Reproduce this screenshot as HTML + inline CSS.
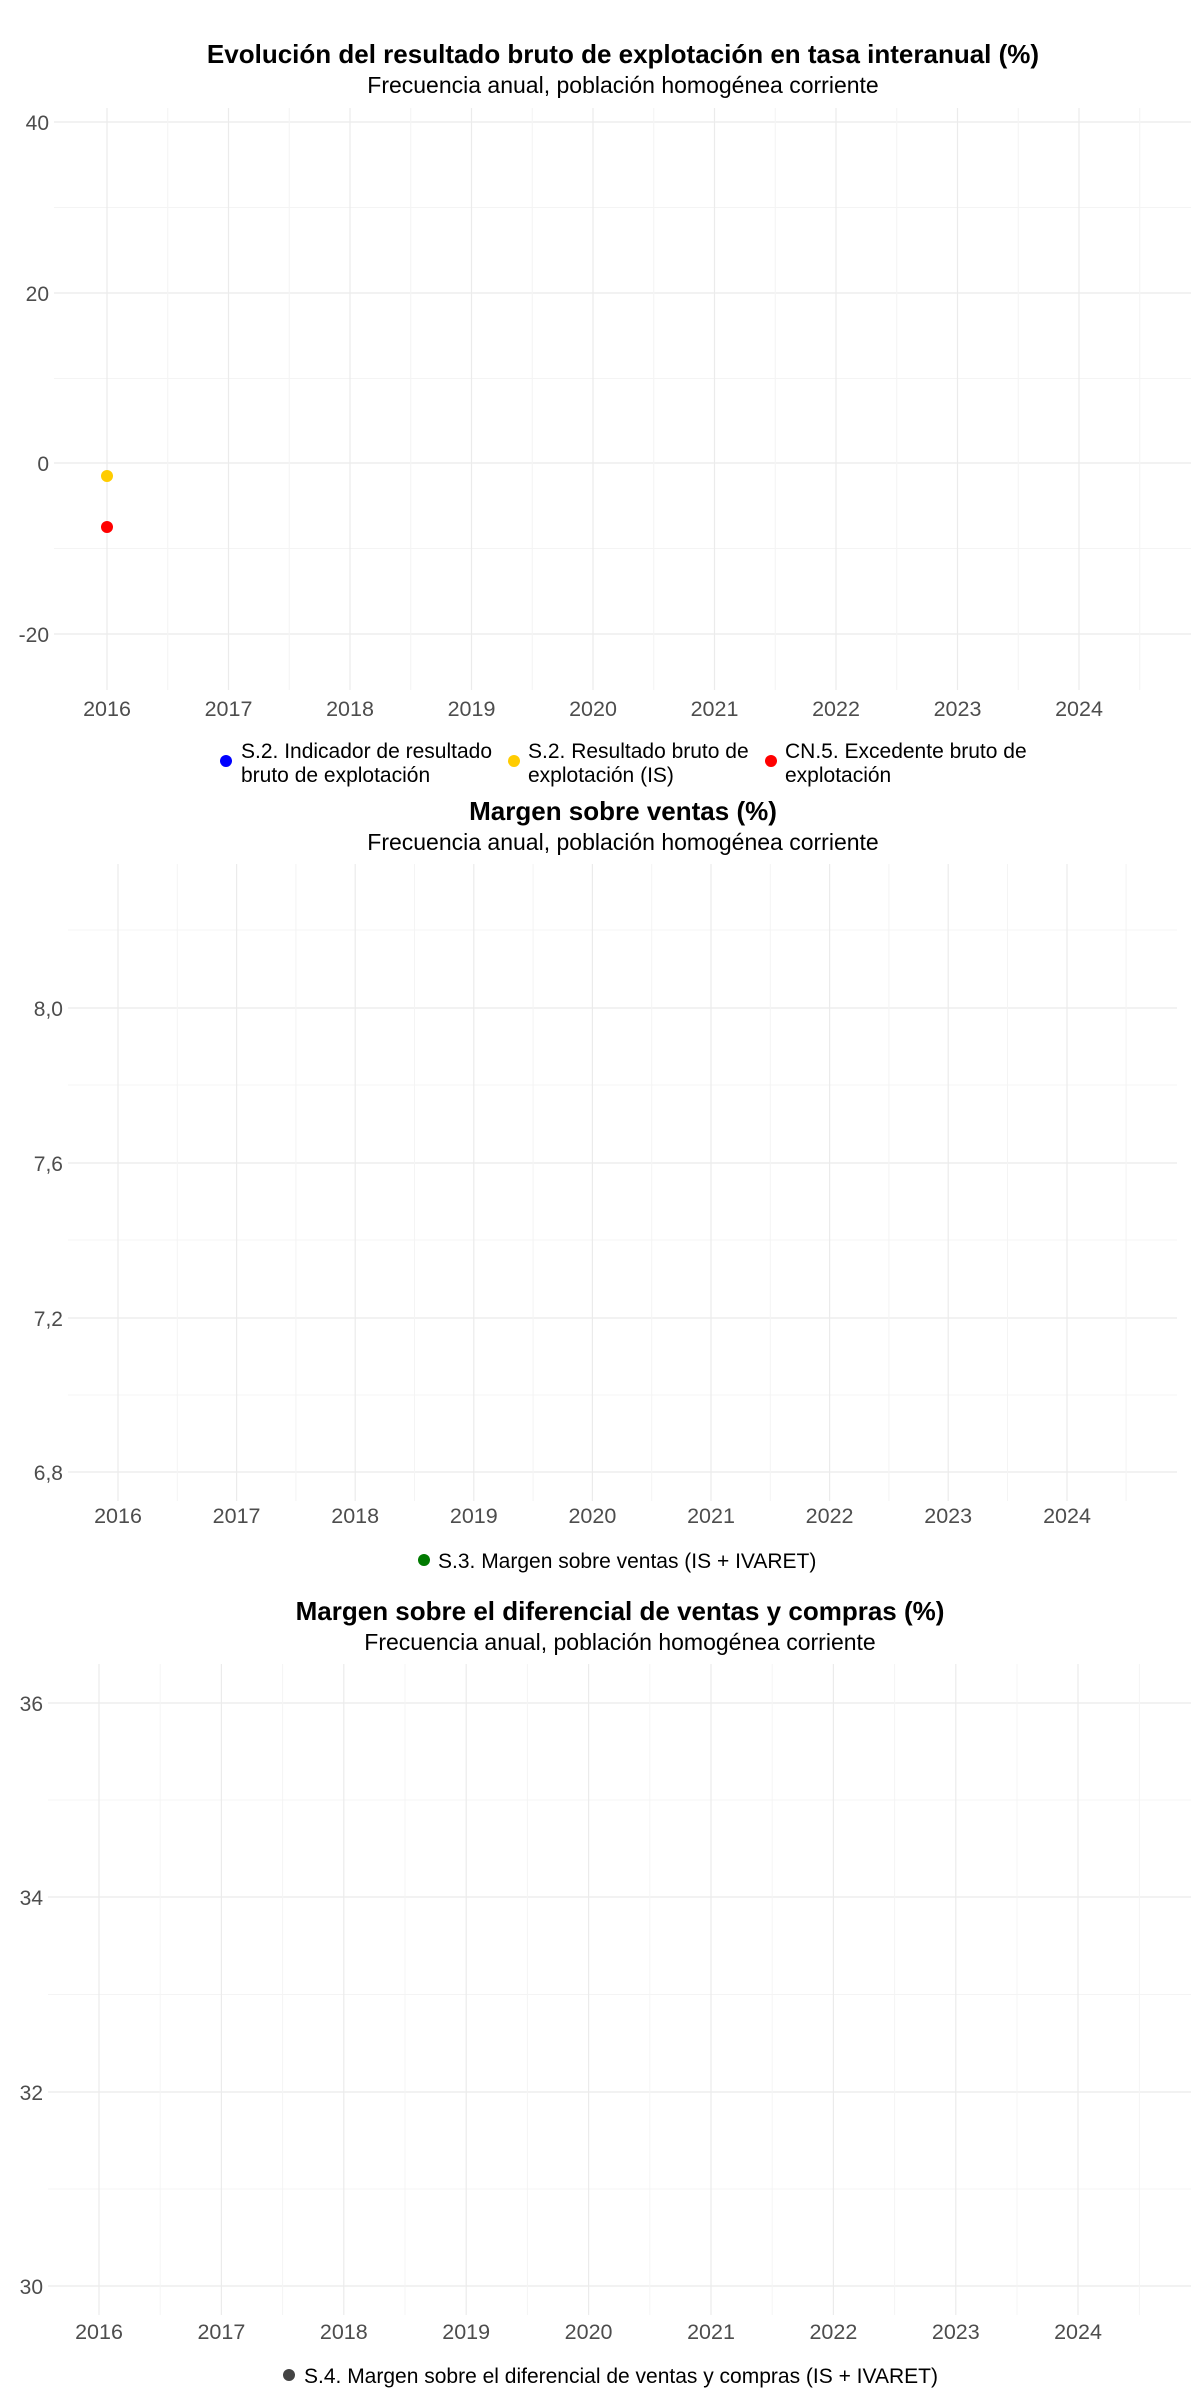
<!DOCTYPE html>
<html><head><meta charset="utf-8"><style>
html,body{margin:0;padding:0;background:#fff;}
svg{display:block;font-family:"Liberation Sans",Arial,sans-serif;}
.t{font-weight:bold;font-size:26px;fill:#000;text-anchor:middle}
.s{font-size:23px;fill:#000;text-anchor:middle}
.yt{font-size:21px;fill:#4d4d4d;text-anchor:end}
.xt{font-size:21.5px;fill:#4d4d4d;text-anchor:middle}
.lg{font-size:21px;fill:#000}
.M{stroke:#ebebeb;stroke-width:1.2}
.m{stroke:#f4f4f4;stroke-width:1}
</style></head><body>
<svg width="1200" height="2400" viewBox="0 0 1200 2400" xmlns="http://www.w3.org/2000/svg">
<!-- Chart 1 -->
<text class="t" x="623" y="63">Evolución del resultado bruto de explotación en tasa interanual (%)</text>
<text class="s" x="623" y="93">Frecuencia anual, población homogénea corriente</text>
<g>
<line class="m" x1="54" x2="1191" y1="207.5" y2="207.5"/><line class="m" x1="54" x2="1191" y1="378.5" y2="378.5"/><line class="m" x1="54" x2="1191" y1="548.5" y2="548.5"/>
<line class="M" x1="54" x2="1191" y1="122" y2="122"/><line class="M" x1="54" x2="1191" y1="293" y2="293"/><line class="M" x1="54" x2="1191" y1="463" y2="463"/><line class="M" x1="54" x2="1191" y1="634" y2="634"/>
<line class="m" x1="167.75" x2="167.75" y1="108" y2="690"/><line class="m" x1="289.25" x2="289.25" y1="108" y2="690"/><line class="m" x1="410.75" x2="410.75" y1="108" y2="690"/><line class="m" x1="532.25" x2="532.25" y1="108" y2="690"/><line class="m" x1="653.75" x2="653.75" y1="108" y2="690"/><line class="m" x1="775.25" x2="775.25" y1="108" y2="690"/><line class="m" x1="896.75" x2="896.75" y1="108" y2="690"/><line class="m" x1="1018.25" x2="1018.25" y1="108" y2="690"/><line class="m" x1="1139.75" x2="1139.75" y1="108" y2="690"/>
<line class="M" x1="107" x2="107" y1="108" y2="690"/><line class="M" x1="228.5" x2="228.5" y1="108" y2="690"/><line class="M" x1="350" x2="350" y1="108" y2="690"/><line class="M" x1="471.5" x2="471.5" y1="108" y2="690"/><line class="M" x1="593" x2="593" y1="108" y2="690"/><line class="M" x1="714.5" x2="714.5" y1="108" y2="690"/><line class="M" x1="836" x2="836" y1="108" y2="690"/><line class="M" x1="957.5" x2="957.5" y1="108" y2="690"/><line class="M" x1="1079" x2="1079" y1="108" y2="690"/>
</g>
<text class="yt" x="49" y="130">40</text><text class="yt" x="49" y="301">20</text><text class="yt" x="49" y="471">0</text><text class="yt" x="49" y="642">-20</text>
<text class="xt" x="107" y="716">2016</text><text class="xt" x="228.5" y="716">2017</text><text class="xt" x="350" y="716">2018</text><text class="xt" x="471.5" y="716">2019</text><text class="xt" x="593" y="716">2020</text><text class="xt" x="714.5" y="716">2021</text><text class="xt" x="836" y="716">2022</text><text class="xt" x="957.5" y="716">2023</text><text class="xt" x="1079" y="716">2024</text>
<circle cx="107" cy="476" r="6" fill="#ffcc00"/><circle cx="107" cy="527" r="6" fill="#ff0000"/>
<circle cx="226" cy="761" r="6" fill="#0000ff"/><text class="lg" x="241" y="758">S.2. Indicador de resultado</text><text class="lg" x="241" y="782">bruto de explotación</text>
<circle cx="514" cy="761" r="6" fill="#ffcc00"/><text class="lg" x="528" y="758">S.2. Resultado bruto de</text><text class="lg" x="528" y="782">explotación (IS)</text>
<circle cx="771" cy="761" r="6" fill="#ff0000"/><text class="lg" x="785" y="758">CN.5. Excedente bruto de</text><text class="lg" x="785" y="782">explotación</text>

<!-- Chart 2 -->
<text class="t" x="623" y="820">Margen sobre ventas (%)</text>
<text class="s" x="623" y="850">Frecuencia anual, población homogénea corriente</text>
<g>
<line class="m" x1="68" x2="1177" y1="930" y2="930"/><line class="m" x1="68" x2="1177" y1="1085" y2="1085"/><line class="m" x1="68" x2="1177" y1="1240" y2="1240"/><line class="m" x1="68" x2="1177" y1="1395" y2="1395"/>
<line class="M" x1="68" x2="1177" y1="1008" y2="1008"/><line class="M" x1="68" x2="1177" y1="1163" y2="1163"/><line class="M" x1="68" x2="1177" y1="1318" y2="1318"/><line class="M" x1="68" x2="1177" y1="1472" y2="1472"/>
<line class="m" x1="177.3" x2="177.3" y1="864" y2="1501"/><line class="m" x1="295.9" x2="295.9" y1="864" y2="1501"/><line class="m" x1="414.5" x2="414.5" y1="864" y2="1501"/><line class="m" x1="533.1" x2="533.1" y1="864" y2="1501"/><line class="m" x1="651.7" x2="651.7" y1="864" y2="1501"/><line class="m" x1="770.3" x2="770.3" y1="864" y2="1501"/><line class="m" x1="888.9" x2="888.9" y1="864" y2="1501"/><line class="m" x1="1007.5" x2="1007.5" y1="864" y2="1501"/><line class="m" x1="1126.1" x2="1126.1" y1="864" y2="1501"/>
<line class="M" x1="118" x2="118" y1="864" y2="1501"/><line class="M" x1="236.6" x2="236.6" y1="864" y2="1501"/><line class="M" x1="355.2" x2="355.2" y1="864" y2="1501"/><line class="M" x1="473.8" x2="473.8" y1="864" y2="1501"/><line class="M" x1="592.4" x2="592.4" y1="864" y2="1501"/><line class="M" x1="711" x2="711" y1="864" y2="1501"/><line class="M" x1="829.6" x2="829.6" y1="864" y2="1501"/><line class="M" x1="948.2" x2="948.2" y1="864" y2="1501"/><line class="M" x1="1067" x2="1067" y1="864" y2="1501"/>
</g>
<text class="yt" x="63" y="1016">8,0</text><text class="yt" x="63" y="1171">7,6</text><text class="yt" x="63" y="1326">7,2</text><text class="yt" x="63" y="1480">6,8</text>
<text class="xt" x="118" y="1523">2016</text><text class="xt" x="236.6" y="1523">2017</text><text class="xt" x="355.2" y="1523">2018</text><text class="xt" x="473.8" y="1523">2019</text><text class="xt" x="592.4" y="1523">2020</text><text class="xt" x="711" y="1523">2021</text><text class="xt" x="829.6" y="1523">2022</text><text class="xt" x="948.2" y="1523">2023</text><text class="xt" x="1067" y="1523">2024</text>
<circle cx="424" cy="1560" r="6" fill="#007a00"/><text class="lg" x="438" y="1568">S.3. Margen sobre ventas (IS + IVARET)</text>

<!-- Chart 3 -->
<text class="t" x="620" y="1620">Margen sobre el diferencial de ventas y compras (%)</text>
<text class="s" x="620" y="1650">Frecuencia anual, población homogénea corriente</text>
<g>
<line class="m" x1="48" x2="1191" y1="1800" y2="1800"/><line class="m" x1="48" x2="1191" y1="1994.5" y2="1994.5"/><line class="m" x1="48" x2="1191" y1="2189" y2="2189"/>
<line class="M" x1="48" x2="1191" y1="1703" y2="1703"/><line class="M" x1="48" x2="1191" y1="1897" y2="1897"/><line class="M" x1="48" x2="1191" y1="2092" y2="2092"/><line class="M" x1="48" x2="1191" y1="2286" y2="2286"/>
<line class="m" x1="160.2" x2="160.2" y1="1664" y2="2315"/><line class="m" x1="282.6" x2="282.6" y1="1664" y2="2315"/><line class="m" x1="405" x2="405" y1="1664" y2="2315"/><line class="m" x1="527.4" x2="527.4" y1="1664" y2="2315"/><line class="m" x1="649.8" x2="649.8" y1="1664" y2="2315"/><line class="m" x1="772.2" x2="772.2" y1="1664" y2="2315"/><line class="m" x1="894.6" x2="894.6" y1="1664" y2="2315"/><line class="m" x1="1017" x2="1017" y1="1664" y2="2315"/><line class="m" x1="1139.4" x2="1139.4" y1="1664" y2="2315"/>
<line class="M" x1="99" x2="99" y1="1664" y2="2315"/><line class="M" x1="221.4" x2="221.4" y1="1664" y2="2315"/><line class="M" x1="343.8" x2="343.8" y1="1664" y2="2315"/><line class="M" x1="466.2" x2="466.2" y1="1664" y2="2315"/><line class="M" x1="588.6" x2="588.6" y1="1664" y2="2315"/><line class="M" x1="711" x2="711" y1="1664" y2="2315"/><line class="M" x1="833.4" x2="833.4" y1="1664" y2="2315"/><line class="M" x1="955.8" x2="955.8" y1="1664" y2="2315"/><line class="M" x1="1078" x2="1078" y1="1664" y2="2315"/>
</g>
<text class="yt" x="43" y="1711">36</text><text class="yt" x="43" y="1905">34</text><text class="yt" x="43" y="2100">32</text><text class="yt" x="43" y="2294">30</text>
<text class="xt" x="99" y="2339">2016</text><text class="xt" x="221.4" y="2339">2017</text><text class="xt" x="343.8" y="2339">2018</text><text class="xt" x="466.2" y="2339">2019</text><text class="xt" x="588.6" y="2339">2020</text><text class="xt" x="711" y="2339">2021</text><text class="xt" x="833.4" y="2339">2022</text><text class="xt" x="955.8" y="2339">2023</text><text class="xt" x="1078" y="2339">2024</text>
<circle cx="289" cy="2375" r="6" fill="#444444"/><text class="lg" x="304" y="2383">S.4. Margen sobre el diferencial de ventas y compras (IS + IVARET)</text>
</svg>
</body></html>
